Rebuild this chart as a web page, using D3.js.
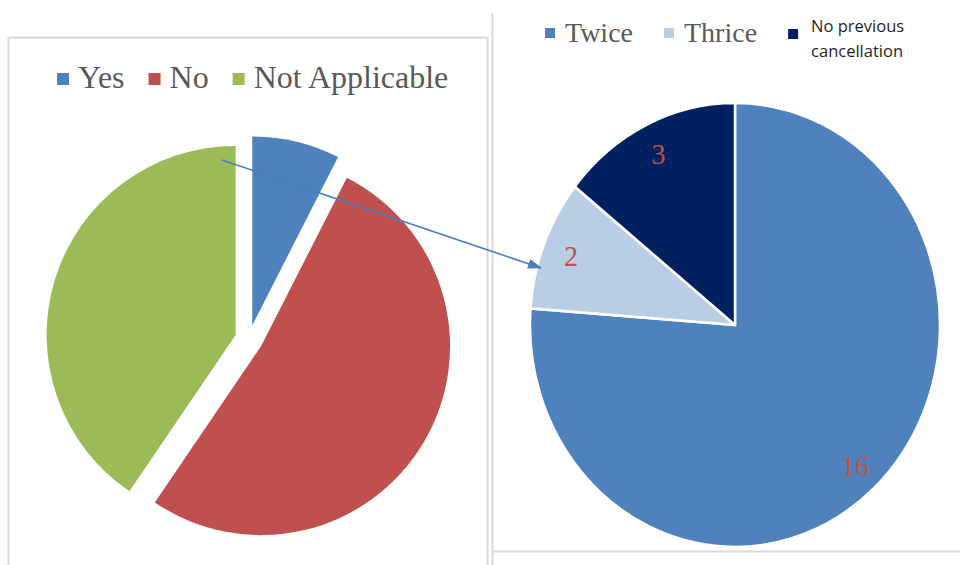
<!DOCTYPE html>
<html>
<head>
<meta charset="utf-8">
<title>Cancellation pies</title>
<script src="https://d3js.org/d3.v7.min.js"></script>
<style>
body { margin: 0; background: #fff; }
svg { display: block; }
</style>
</head>
<body>
<script>
// data (left pie as percent of answers)
var leftCategories = ["Yes", "No", "Not Applicable"];
var leftValues = [7.5, 52, 40.5];
var rightCategories = ["Twice", "Thrice", "No previous cancellation"];
var rightValues = [16, 2, 3];

var leftColors = ["#4f81bd", "#c0504d", "#9bbb59"];
var rightColors = ["#4f81bd", "#b9cde5", "#002060"];

var W = 960, H = 565;
var svg = d3.select("body").append("svg").attr("width", W).attr("height", H);

// frames
var frame = "#d9d9d9";
svg.append("path").attr("d", "M8.5,565 V37.5 H487.5 V565").attr("fill", "none").attr("stroke", frame).attr("stroke-width", 2);
svg.append("path").attr("d", "M492.5,13 V565 M492,551.5 H960").attr("fill", "none").attr("stroke", frame).attr("stroke-width", 2);

// arrow marker
svg.append("defs").append("marker")
  .attr("id", "arrow").attr("markerUnits", "userSpaceOnUse")
  .attr("viewBox", "0 0 14 10").attr("refX", 13).attr("refY", 5)
  .attr("markerWidth", 14).attr("markerHeight", 10).attr("orient", "auto")
  .append("path").attr("d", "M0,0 L14,5 L0,10 Z").attr("fill", "#4a7ebb");

//##############
// LEFT PIE (exploded)
//##############
var lc = [249, 339], lr = 189, explode = 14;
var pie = d3.pie().sort(null).value(function(d){ return d; });
var lArc = d3.arc().innerRadius(0).outerRadius(lr);

var left = svg.append("g").attr("transform", "translate(" + lc[0] + "," + lc[1] + ")");
left.selectAll("path").data(pie(leftValues)).enter().append("path")
  .attr("d", lArc)
  .attr("fill", function(d, i){ return leftColors[i]; })
  .attr("transform", function(d){
    var a = (d.startAngle + d.endAngle) / 2;
    return "translate(" + (explode * Math.sin(a)) + "," + (-explode * Math.cos(a)) + ")";
  });

// left legend
var lLeg = svg.append("g").attr("font-family", "'Liberation Serif', 'Times New Roman', serif").attr("font-size", 32).attr("fill", "#595959");
var lx = 57;
leftCategories.forEach(function(c, i){
  lLeg.append("rect").attr("x", lx).attr("y", 73).attr("width", 12).attr("height", 12).attr("fill", leftColors[i]);
  var t = lLeg.append("text").attr("x", lx + 21).attr("y", 88).text(c);
  lx += 21 + t.node().getComputedTextLength() + 24;
});

//##############
// RIGHT PIE (picture is stretched vertically)
//##############
var rc = [735, 325], rr = 205, stretch = 222 / 205;
var rArc = d3.arc().innerRadius(0).outerRadius(rr);
var labelArc = d3.arc().innerRadius(rr * 0.86).outerRadius(rr * 0.86);

var right = svg.append("g").attr("transform", "translate(" + rc[0] + "," + rc[1] + ") scale(1," + stretch + ")");
var rSlices = pie(rightValues);
right.selectAll("path").data(rSlices).enter().append("path")
  .attr("d", rArc)
  .attr("fill", function(d, i){ return rightColors[i]; })
  .attr("stroke", "#fff").attr("stroke-width", 2.5).attr("stroke-linejoin", "round");

right.selectAll("text").data(rSlices).enter().append("text")
  .attr("transform", function(d){ return "translate(" + labelArc.centroid(d) + ")"; })
  .attr("text-anchor", "middle").attr("dy", "0.35em")
  .attr("font-family", "'Liberation Serif', 'Times New Roman', serif").attr("font-size", 28)
  .attr("fill", "#c0504d")
  .text(function(d){ return d.value; });

// right legend
var rLeg = svg.append("g");
var rx = 545;
rightCategories.forEach(function(c, i){
  if (i < 2) {
    rLeg.append("rect").attr("x", rx).attr("y", 28).attr("width", 10).attr("height", 10).attr("fill", rightColors[i]);
    var t = rLeg.append("text").attr("x", rx + 20).attr("y", 42)
      .attr("font-family", "'Liberation Serif', 'Times New Roman', serif").attr("font-size", 28).attr("fill", "#595959")
      .text(c);
    rx += 20 + t.node().getComputedTextLength() + 31;
  } else {
    rLeg.append("rect").attr("x", rx).attr("y", 29).attr("width", 10).attr("height", 10).attr("fill", rightColors[i]);
    var words = c.split(" ");
    var t2 = rLeg.append("text")
      .attr("font-family", "'Open Sans', sans-serif").attr("font-size", 16.5).attr("fill", "#1f1f1f");
    t2.append("tspan").attr("x", rx + 23).attr("y", 32).text(words.slice(0, 2).join(" "));
    t2.append("tspan").attr("x", rx + 23).attr("y", 57).text(words.slice(2).join(" "));
  }
});

// arrow linking the two pies
svg.append("line")
  .attr("x1", 222).attr("y1", 160).attr("x2", 541).attr("y2", 268)
  .attr("stroke", "#4a7ebb").attr("stroke-width", 1.6)
  .attr("marker-end", "url(#arrow)");
</script>
</body>
</html>
